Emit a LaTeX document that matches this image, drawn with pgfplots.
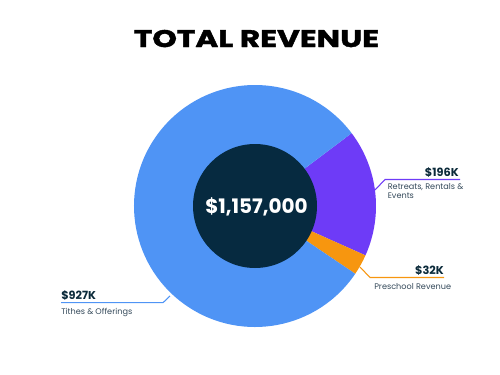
\documentclass[border=0pt]{standalone}
\usepackage{pgfplots}
\pgfplotsset{compat=1.18}
\usepackage{pgfplotstable}
\usepackage{fontspec}
\setmainfont{Poppins}
\newfontfamily\titlefont[BoldFeatures={FakeBold=1.5}]{Poppins}
\definecolor{cBlue}{HTML}{4F94F5}
\definecolor{cPurple}{HTML}{6E3BF7}
\definecolor{cOrange}{HTML}{F7960F}
\definecolor{cNavy}{HTML}{062A40}
\definecolor{cText}{HTML}{0B2A3A}
\definecolor{cSub}{HTML}{34495A}
\pgfplotstableread{
label value
Tithes 927
Retreats 196
Preschool 32
}\revtable
\begin{document}
\begin{tikzpicture}
\pgfplotstablegetelem{0}{value}\of\revtable \let\vA\pgfplotsretval
\pgfplotstablegetelem{1}{value}\of\revtable \let\vB\pgfplotsretval
\pgfplotstablegetelem{2}{value}\of\revtable \let\vC\pgfplotsretval
\pgfmathsetmacro\tot{\vA+\vB+\vC}
\pgfmathsetmacro\aA{360*(\vA/\tot)}
\pgfmathsetmacro\aB{360*(\vB/\tot)}
\pgfmathsetmacro\aC{360*(\vC/\tot)}
\pgfmathsetmacro\sB{37}
\pgfmathsetmacro\sC{\sB-\aB}
\pgfmathsetmacro\sA{\sC-\aC}
\begin{axis}[scale only axis, width=375pt, height=281.25pt,
  xmin=0, xmax=500, ymin=0, ymax=375, y dir=reverse,
  hide axis, clip=false]
\path (axis cs:0,0) rectangle (axis cs:500,375);
\def\R{90.75pt}
\def\r{46.5pt}
\fill[cPurple] (axis cs:255,206) -- ++(\sB:\R) arc[start angle=\sB, delta angle=-\aB, radius=\R] -- cycle;
\fill[cOrange] (axis cs:255,206) -- ++(\sC:\R) arc[start angle=\sC, delta angle=-\aC, radius=\R] -- cycle;
\fill[cBlue] (axis cs:255,206) -- ++(\sA:\R) arc[start angle=\sA, delta angle=-\aA, radius=\R] -- cycle;
\fill[cNavy] (axis cs:255,206) circle[radius=\r];
\node[anchor=base, font=\fontsize{15}{17}\selectfont\bfseries, text=white, inner sep=0pt] at (axis cs:256.5,213) {\$1,157,000};
\node[anchor=base, font=\titlefont\fontsize{18}{20}\selectfont\bfseries, text=black, inner sep=0pt, xscale=1.3] at (axis cs:256.5,47) {TOTAL REVENUE};
% leader lines
\draw[cPurple, line width=0.8pt] (axis cs:375,190) -- (axis cs:385,179.5) -- (axis cs:460,179.5);
\draw[cOrange, line width=0.8pt] (axis cs:360,267) -- (axis cs:370,277.5) -- (axis cs:444,277.5);
\draw[cBlue, line width=0.8pt] (axis cs:170,296) -- (axis cs:163,302.7) -- (axis cs:61,302.7);
% labels
\node[anchor=base east, font=\fontsize{8.5}{10}\selectfont\bfseries, text=cText, inner sep=0pt] at (axis cs:459,176) {\$196K};
\node[anchor=base west, font=\fontsize{6.1}{7.5}\selectfont, text=cSub, inner sep=0pt] at (axis cs:387.5,189) {Retreats, Rentals \&};
\node[anchor=base west, font=\fontsize{6.1}{7.5}\selectfont, text=cSub, inner sep=0pt] at (axis cs:387.5,198.7) {Events};
\node[anchor=base east, font=\fontsize{8.5}{10}\selectfont\bfseries, text=cText, inner sep=0pt] at (axis cs:444,274) {\$32K};
\node[anchor=base west, font=\fontsize{6.1}{7.5}\selectfont, text=cSub, inner sep=0pt] at (axis cs:374,289) {Preschool Revenue};
\node[anchor=base west, font=\fontsize{8.5}{10}\selectfont\bfseries, text=cText, inner sep=0pt] at (axis cs:61,299) {\$927K};
\node[anchor=base west, font=\fontsize{6.1}{7.5}\selectfont, text=cSub, inner sep=0pt] at (axis cs:61,314) {Tithes \& Offerings};
\end{axis}
\end{tikzpicture}
\end{document}
